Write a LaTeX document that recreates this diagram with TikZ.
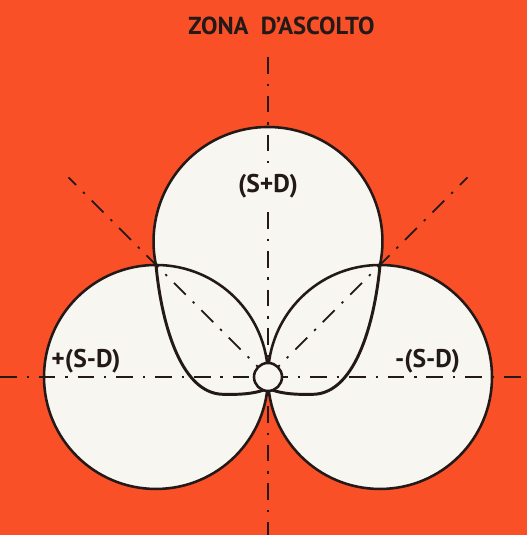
\documentclass[tikz,border=0pt]{standalone}
\usepackage{fontspec}
\setmainfont{PT Sans}
\definecolor{bgred}{RGB}{250,80,40}
\definecolor{paper}{RGB}{248,246,240}
\definecolor{ink}{RGB}{35,25,22}
\begin{document}
\begin{tikzpicture}[x=2cm,y=2cm,
    axis/.style={ink,line width=0.9pt,dash pattern=on 8.5pt off 5pt on 1.2pt off 5pt},
    rim/.style={ink,line width=1.3pt},
    lobe/.style={ink,line width=1.5pt},
    tag/.style={text=ink,inner sep=1pt,font=\bfseries\fontsize{13}{15}\selectfont}]
    \useasboundingbox (-2.393,-1.411) rectangle (2.3125,3.366);
    \fill[bgred] (-2.393,-1.411) rectangle (2.3125,3.366);
    % centres of the three patterns
    \coordinate (O) at (0,0);
    \coordinate (L) at (-1,0);
    \coordinate (R) at (1,0);
    \coordinate (U) at (0,1.21);
    \coordinate (T1) at (-1,1);
    \coordinate (T2) at (1,1);
    \fill[paper] (U) circle[radius=1.022] (L) circle[radius=1] (R) circle[radius=1];
    % axes
    \coordinate (top) at (0,2.857);
    \coordinate (bot) at (0,-1.411);
    \coordinate (west) at (-2.393,0);
    \coordinate (east) at (2.3125,0);
    \draw[axis] (top) -- (bot);
    \draw[axis] (west) -- (east);
    \foreach \a in {45,135}{
        \coordinate (d\a) at (\a:2.52);
        \draw[axis] (O) -- (d\a);
    }
    % outlines
    \draw[rim] (L) circle[radius=1] (R) circle[radius=1];
    \draw[rim] (T2) arc[start angle=-11.86,end angle=191.86,radius=1.022];
    \foreach \s/\t in {-1/T1,1/T2}{
        \draw[lobe] (\t) .. controls (\s*0.96,0.55) and (\s*0.8,-0.15) .. (\s*0.4,-0.155)
            .. controls (\s*0.2,-0.16) and (\s*0.08,-0.14) .. (0,-0.1);
    }
    \node[circle,draw=ink,fill=paper,line width=1.3pt,minimum size=0.5cm,inner sep=0pt] (mic) at (O) {};
    % labels
    \node[tag,fill=paper,inner sep=2pt] (sum) at (0,1.705) {(S+D)};
    \node[tag] (pos) at (-1.625,0.143) {+(S-D)};
    \node[tag] (neg) at (1.424,0.143) {-(S-D)};
    \node[text=ink,font=\bfseries\fontsize{12.5}{14}\selectfont] (zone) at (0.12,3.134) {ZONA\ \ D'ASCOLTO};
\end{tikzpicture}
\end{document}
